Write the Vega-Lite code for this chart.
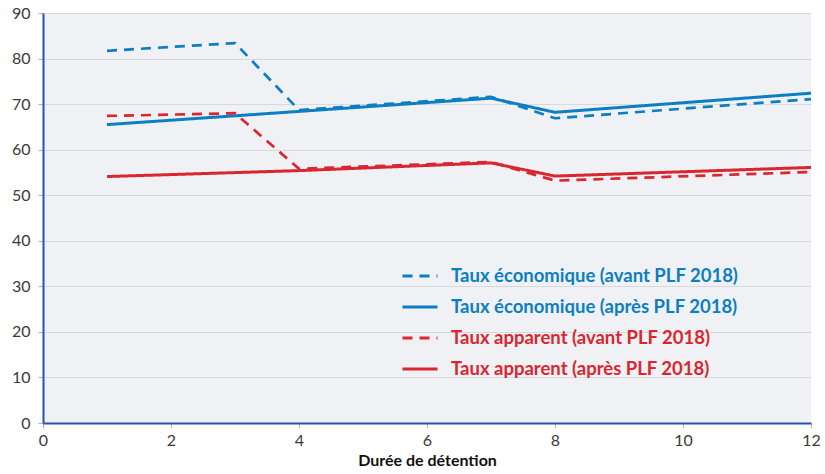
{
  "$schema": "https://vega.github.io/schema/vega-lite/v6.json",
  "width": 768,
  "height": 410,
  "autosize": "none",
  "padding": {"left": 43, "top": 13, "right": 14, "bottom": 51},
  "background": "white",
  "config": {
    "view": {"fill": "#f0f1f4", "stroke": null},
    "font": "Lato"
  },
  "data": {
    "values": [
      {"duree": 1, "taux": 81.7, "serie": "Taux économique (avant PLF 2018)", "style": "dash"},
      {"duree": 3, "taux": 83.4, "serie": "Taux économique (avant PLF 2018)", "style": "dash"},
      {"duree": 4, "taux": 68.7, "serie": "Taux économique (avant PLF 2018)", "style": "dash"},
      {"duree": 7, "taux": 71.6, "serie": "Taux économique (avant PLF 2018)", "style": "dash"},
      {"duree": 8, "taux": 66.9, "serie": "Taux économique (avant PLF 2018)", "style": "dash"},
      {"duree": 12, "taux": 71.1, "serie": "Taux économique (avant PLF 2018)", "style": "dash"},
      {"duree": 1, "taux": 65.5, "serie": "Taux économique (après PLF 2018)", "style": "solid"},
      {"duree": 4, "taux": 68.4, "serie": "Taux économique (après PLF 2018)", "style": "solid"},
      {"duree": 7, "taux": 71.3, "serie": "Taux économique (après PLF 2018)", "style": "solid"},
      {"duree": 8, "taux": 68.2, "serie": "Taux économique (après PLF 2018)", "style": "solid"},
      {"duree": 12, "taux": 72.4, "serie": "Taux économique (après PLF 2018)", "style": "solid"},
      {"duree": 1, "taux": 67.4, "serie": "Taux apparent (avant PLF 2018)", "style": "dash"},
      {"duree": 3, "taux": 68.0, "serie": "Taux apparent (avant PLF 2018)", "style": "dash"},
      {"duree": 4, "taux": 55.8, "serie": "Taux apparent (avant PLF 2018)", "style": "dash"},
      {"duree": 7, "taux": 57.3, "serie": "Taux apparent (avant PLF 2018)", "style": "dash"},
      {"duree": 8, "taux": 53.2, "serie": "Taux apparent (avant PLF 2018)", "style": "dash"},
      {"duree": 12, "taux": 55.1, "serie": "Taux apparent (avant PLF 2018)", "style": "dash"},
      {"duree": 1, "taux": 54.1, "serie": "Taux apparent  (après PLF 2018)", "style": "solid"},
      {"duree": 4, "taux": 55.4, "serie": "Taux apparent  (après PLF 2018)", "style": "solid"},
      {"duree": 7, "taux": 57.1, "serie": "Taux apparent  (après PLF 2018)", "style": "solid"},
      {"duree": 8, "taux": 54.2, "serie": "Taux apparent  (après PLF 2018)", "style": "solid"},
      {"duree": 12, "taux": 56.1, "serie": "Taux apparent  (après PLF 2018)", "style": "solid"}
    ]
  },
  "encoding": {
    "x": {
      "field": "duree", "type": "quantitative",
      "scale": {"domain": [0, 12], "nice": false},
      "axis": {
        "title": "Durée de détention",
        "titleFont": "Lato", "titleFontSize": 16, "titleFontWeight": "bold", "titleColor": "#111111",
        "titlePadding": 4,
        "values": [0, 2, 4, 6, 8, 10, 12],
        "labelFont": "Lato", "labelFontSize": 16, "labelColor": "#3a3a3a", "labelPadding": 4,
        "domainColor": "#2850b0", "domainWidth": 2,
        "tickColor": "#b0b0b0", "tickSize": 5, "grid": false, "labelFlush": false
      }
    },
    "y": {
      "field": "taux", "type": "quantitative",
      "scale": {"domain": [0, 90], "nice": false},
      "axis": {
        "title": null,
        "values": [0, 10, 20, 30, 40, 50, 60, 70, 80, 90],
        "labelFont": "Lato", "labelFontSize": 16, "labelColor": "#3a3a3a", "labelPadding": 8,
        "domainColor": "#2850b0", "domainWidth": 2,
        "tickColor": "#b0b0b0", "tickSize": 5,
        "grid": true, "gridColor": "#d8d9dc", "gridWidth": 1,
        "labelFlush": false
      }
    },
    "color": {
      "field": "serie", "type": "nominal",
      "scale": {
        "domain": ["Taux économique (avant PLF 2018)", "Taux économique (après PLF 2018)", "Taux apparent (avant PLF 2018)", "Taux apparent  (après PLF 2018)"],
        "range": ["#0b7fc1", "#0b7fc1", "#d9262f", "#d9262f"]
      },
      "legend": {
        "title": null,
        "orient": "none",
        "legendX": 358,
        "legendY": 244,
        "symbolType": "stroke",
        "symbolSize": 1225,
        "symbolStrokeWidth": 3,
        "labelFont": "Lato", "labelFontSize": 18.5, "labelFontWeight": "bold",
        "labelOffset": 12,
        "rowPadding": 2,
        "labelLimit": 400,
        "encode": {
          "labels": {"update": {"fill": {"signal": "indexof(datum.value, 'économique') >= 0 ? '#0b7fc1' : '#d9262f'"}}}
        }
      }
    },
    "strokeDash": {
      "field": "serie", "type": "nominal",
      "scale": {
        "domain": ["Taux économique (avant PLF 2018)", "Taux économique (après PLF 2018)", "Taux apparent (avant PLF 2018)", "Taux apparent  (après PLF 2018)"],
        "range": [[10, 7], [1, 0], [10, 7], [1, 0]]
      },
      "legend": null
    }
  },
  "layer": [
    {
      "transform": [{"filter": "datum.style === 'solid'"}],
      "mark": {"type": "line", "strokeWidth": 3}
    },
    {
      "transform": [{"filter": "datum.style === 'dash'"}],
      "mark": {"type": "line", "strokeWidth": 2.7}
    }
  ]
}
